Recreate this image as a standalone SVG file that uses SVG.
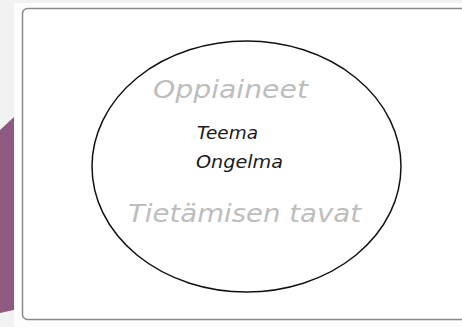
<svg xmlns="http://www.w3.org/2000/svg" width="462" height="327" viewBox="0 0 462 327">
<style>
.hand{font-family:"DejaVu Sans","Liberation Sans",sans-serif;font-style:oblique}
.gray{fill:#bdbdbd;font-size:25px}
.dark{fill:#1a1a1a;font-size:17px}
</style>
<rect width="462" height="327" fill="#f2f2f2"/>
<rect x="14" y="3" width="448" height="324" fill="#fdfdfd"/>
<polygon points="0,130 14,117 14,310 0,313" fill="#8e5a82"/>
<g id="frame">
<rect x="22.5" y="8.5" width="450" height="311" rx="5" fill="#ffffff" stroke="#8a8a8a" stroke-width="1.5"/>
</g>
<g id="ellipse">
<ellipse cx="246.5" cy="166.5" rx="154.5" ry="125.5" fill="none" stroke="#111" stroke-width="1.5"/>
</g>
<g id="labels">
<text class="hand gray" x="153" y="98" textLength="155" lengthAdjust="spacingAndGlyphs">Oppiaineet</text>
<text class="hand dark" x="197" y="139" textLength="61" lengthAdjust="spacingAndGlyphs">Teema</text>
<text class="hand dark" x="196" y="168" textLength="87" lengthAdjust="spacingAndGlyphs">Ongelma</text>
<text class="hand gray" x="128" y="222" textLength="233" lengthAdjust="spacingAndGlyphs">Tietämisen tavat</text>
</g>
<g id="connectors"></g>
</svg>
